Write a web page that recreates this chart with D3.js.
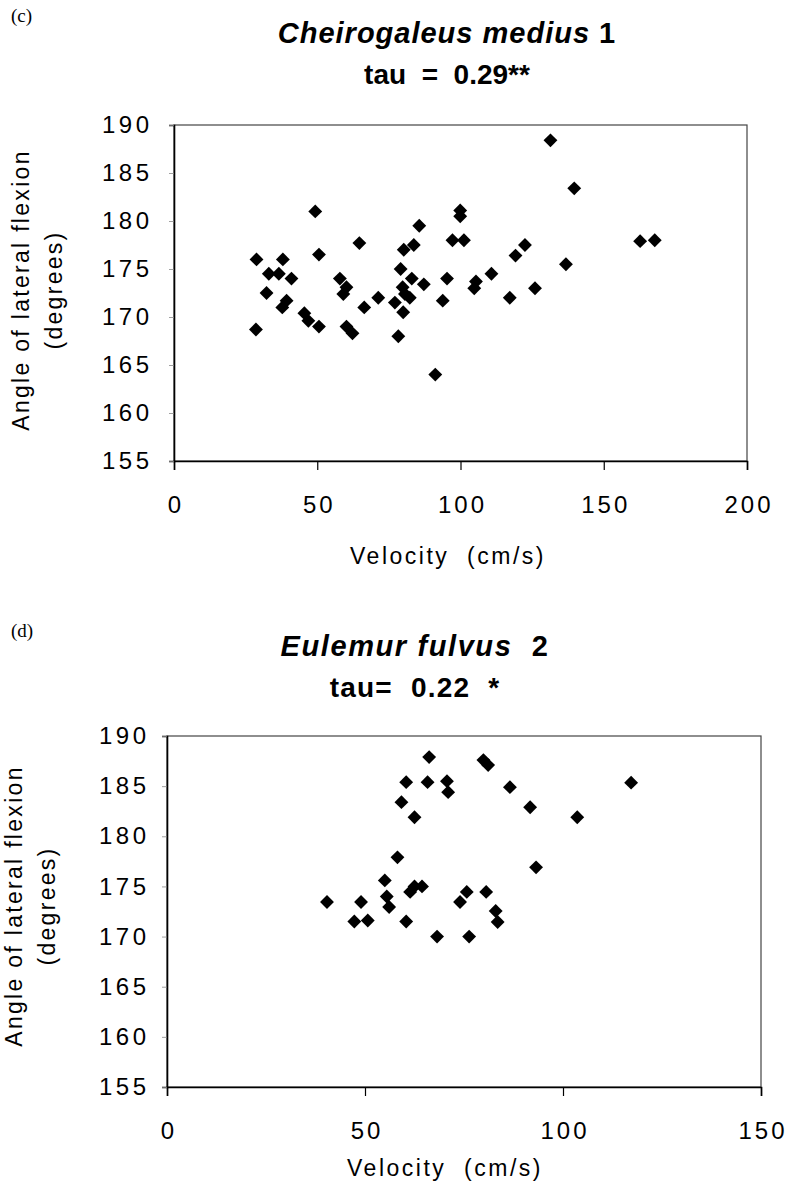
<!DOCTYPE html>
<html>
<head>
<meta charset="utf-8">
<script src="https://cdn.jsdelivr.net/npm/d3@7"></script>
<style>
  html, body { margin: 0; padding: 0; background: #fff; }
  svg { display: block; }
</style>
</head>
<body>
<svg id="chart" width="787" height="1183"></svg>
<script>
// ---------- DATA ----------
// Panel (c): Cheirogaleus medius 1
const topVelocity = [28.8, 28.6, 33.1, 32.3, 36.6, 38.0, 41.0, 39.3, 37.8, 49.3, 50.6, 45.5, 46.9, 50.6,
  57.9, 60.2, 59.1, 60.2, 62.3, 64.7, 66.4, 71.3, 77.1, 78.3, 79.1, 80.2, 83.7, 85.6, 83.0, 79.8, 80.6,
  82.3, 80.0, 87.2, 91.2, 93.8, 95.3, 97.2, 99.9, 99.9, 101.2, 105.4, 104.8, 110.8, 117.2, 119.2, 122.5,
  126.0, 131.4, 136.8, 139.7, 162.7, 167.8];
const topAngle = [176.0, 168.7, 174.5, 172.5, 174.5, 176.0, 174.0, 171.7, 171.0, 181.0, 176.5, 170.4, 169.6, 169.0,
  174.0, 173.1, 172.4, 169.0, 168.3, 177.7, 171.0, 172.0, 171.5, 168.0, 175.0, 177.0, 177.5, 179.5, 174.0, 173.1, 172.4,
  172.0, 170.5, 173.4, 164.0, 171.7, 174.0, 178.0, 181.1, 180.5, 178.0, 173.7, 173.0, 174.5, 172.0, 176.4, 177.5,
  173.0, 188.4, 175.5, 183.4, 177.9, 178.0];
const topXTicks = [0, 50, 100, 150, 200];

// Panel (d): Eulemur fulvus 2
const bottomVelocity = [40.4, 47.3, 49.0, 50.7, 55.0, 55.5, 56.1, 58.2, 59.2, 60.4, 60.4, 62.5, 61.4, 62.5, 64.4,
  66.2, 65.8, 68.2, 70.7, 71.0, 74.0, 75.7, 76.3, 79.9, 81.1, 80.6, 83.0, 83.5, 86.6, 91.7, 93.2, 103.6, 117.2];
const bottomAngle = [173.45, 171.5, 173.45, 171.6, 175.6, 174.0, 172.95, 177.9, 183.4, 185.4, 171.5, 181.9, 174.45, 175.0, 175.0,
  187.9, 185.4, 170.0, 185.5, 184.4, 173.45, 174.45, 170.0, 187.6, 187.1, 174.45, 172.55, 171.45, 184.9, 182.9, 176.9, 181.9, 185.35];
const bottomXTicks = [0, 50, 100, 150];

const yTicks = [155, 160, 165, 170, 175, 180, 185, 190];

// ---------- DRAW ----------
const svg = d3.select("#chart");
const SANS = "'Liberation Sans', Arial, Helvetica, sans-serif";
const SERIF = "'Liberation Serif', 'Times New Roman', serif";

function panel(cfg) {
  const g = svg.append("g");
  const x = d3.scaleLinear().domain([0, cfg.xMax]).range([cfg.left, cfg.right]);
  const y = d3.scaleLinear().domain([155, 190]).range([cfg.bottom, cfg.top]);

  // plot frame
  g.append("rect")
    .attr("x", cfg.left).attr("y", cfg.top)
    .attr("width", cfg.right - cfg.left).attr("height", cfg.bottom - cfg.top)
    .attr("fill", "none").attr("stroke", "#444").attr("stroke-width", 1.2);

  // x axis
  const xAxis = d3.axisBottom(x).tickValues(cfg.xTicks).tickSize(9).tickPadding(26).tickFormat(d3.format("d"));
  const gx = g.append("g").attr("transform", `translate(0,${cfg.bottom})`).call(xAxis);
  gx.select(".domain").attr("stroke", "#000").attr("stroke-width", 1.6);
  gx.selectAll(".tick line").attr("stroke", "#000").attr("stroke-width", 1.2);
  gx.selectAll(".tick text")
    .style("font-family", SANS).style("font-size", "24px")
    .style("letter-spacing", "3px").attr("dx", 1.5).attr("fill", "#000");

  // y axis
  const yAxis = d3.axisLeft(y).tickValues(yTicks).tickSize(5).tickPadding(cfg.yPad).tickFormat(d3.format("d"));
  const gy = g.append("g").attr("transform", `translate(${cfg.left},0)`).call(yAxis);
  gy.select(".domain").attr("stroke", "#000").attr("stroke-width", 1.6);
  gy.selectAll(".tick line").attr("stroke", "#888").attr("stroke-width", 0.8);
  gy.selectAll(".tick text")
    .style("font-family", SANS).style("font-size", "24px")
    .style("letter-spacing", "3.5px").attr("dx", 3.5).attr("fill", "#000");

  // markers
  const diamond = d3.symbol().type(d3.symbolSquare).size(96);
  g.append("g").selectAll("path")
    .data(cfg.vel.map((v, i) => ({ v: v, a: cfg.ang[i] })))
    .join("path")
    .attr("d", diamond)
    .attr("transform", d => `translate(${x(d.v)},${y(d.a)}) rotate(45)`)
    .attr("fill", "#000");

  // axis titles
  g.append("text").attr("x", cfg.xLabelX).attr("y", cfg.xLabelY)
    .attr("text-anchor", "middle")
    .style("font-family", SANS).style("font-size", "23px").style("letter-spacing", "2.5px")
    .style("white-space", "pre")
    .text("Velocity  (cm/s)");

  g.append("text")
    .attr("transform", `translate(${cfg.yLab1X},${cfg.yLabY}) rotate(-90)`)
    .attr("text-anchor", "middle")
    .style("font-family", SANS).style("font-size", "23px").style("letter-spacing", "2.3px")
    .text("Angle of lateral flexion");
  g.append("text")
    .attr("transform", `translate(${cfg.yLab2X},${cfg.yLabY}) rotate(-90)`)
    .attr("text-anchor", "middle")
    .style("font-family", SANS).style("font-size", "23px").style("letter-spacing", "2.3px")
    .text("(degrees)");

  // titles
  const t1 = g.append("text").attr("x", cfg.titleX).attr("y", cfg.titleY1)
    .attr("text-anchor", "middle")
    .style("font-family", SANS).style("font-size", "29px").style("font-weight", "bold")
    .style("letter-spacing", cfg.titleSpacing).style("white-space", "pre");
  t1.append("tspan").style("font-style", "italic").text(cfg.species);
  t1.append("tspan").text(cfg.suffix);

  g.append("text").attr("x", cfg.titleX).attr("y", cfg.titleY2)
    .attr("text-anchor", "middle")
    .style("font-family", SANS).style("font-size", "28px").style("font-weight", "bold")
    .style("letter-spacing", cfg.tauSpacing).style("white-space", "pre")
    .text(cfg.tau);

  // panel letter
  g.append("text").attr("x", 11).attr("y", cfg.letterY)
    .style("font-family", SERIF).style("font-size", "19px")
    .text(cfg.letter);
}

panel({
  vel: topVelocity, ang: topAngle, xMax: 200, xTicks: topXTicks,
  left: 174, right: 747, top: 125, bottom: 461, yPad: 20,
  xLabelX: 448, xLabelY: 564,
  yLab1X: 29, yLab2X: 62, yLabY: 290,
  titleX: 447, titleY1: 43, titleY2: 84, titleSpacing: "1px", tauSpacing: "0px",
  species: "Cheirogaleus medius", suffix: " 1", tau: "tau  =  0.29**",
  letter: "(c)", letterY: 22
});

panel({
  vel: bottomVelocity, ang: bottomAngle, xMax: 150, xTicks: bottomXTicks,
  left: 167, right: 761, top: 736, bottom: 1087, yPad: 16,
  xLabelX: 445, xLabelY: 1176,
  yLab1X: 22, yLab2X: 55, yLabY: 906,
  titleX: 415, titleY1: 656, titleY2: 697, titleSpacing: "1.6px", tauSpacing: "1.2px",
  species: "Eulemur fulvus", suffix: "  2", tau: "tau=  0.22  *",
  letter: "(d)", letterY: 637
});
</script>
</body>
</html>
